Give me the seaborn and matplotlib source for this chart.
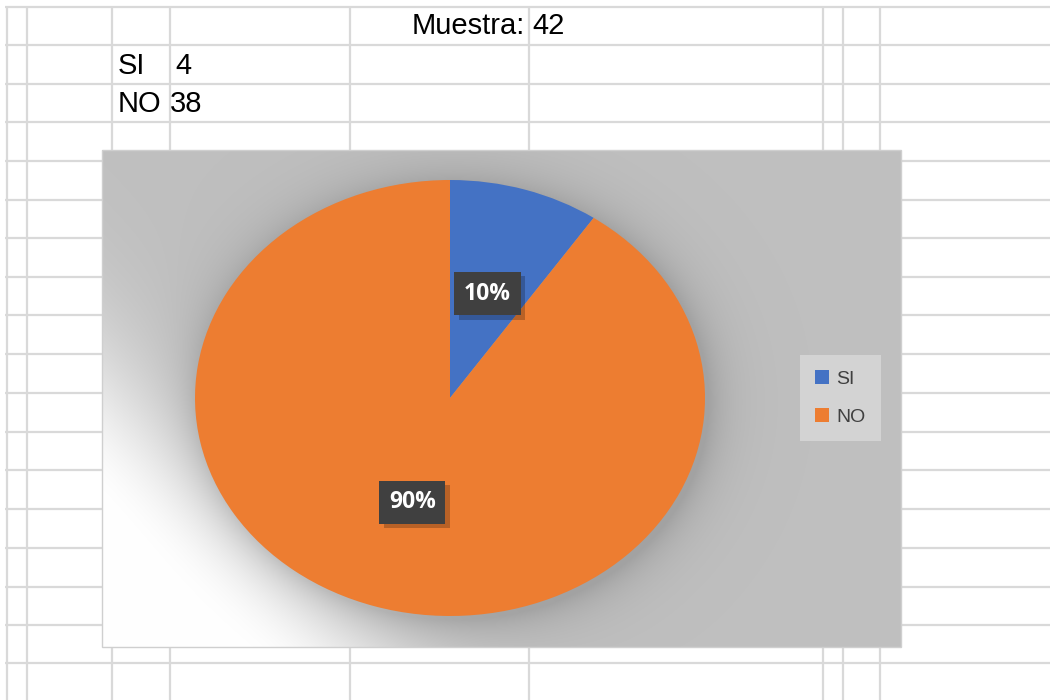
import numpy as np
import matplotlib
matplotlib.use('Agg')
import matplotlib.pyplot as plt
import matplotlib.patheffects as pe
from matplotlib.patches import Rectangle
import seaborn as sns

# data
categories = ['SI', 'NO']
counts = [4, 38]
colors = ['#4472C4', '#ED7D31']
sample_label = 'Muestra:'
sample_size = sum(counts)

# spreadsheet grid (pixel positions of the cell borders)
grid_x = [7, 27, 112, 170, 350, 529, 823, 843, 880]
grid_y = [7, 45, 84, 122, 161, 200, 238, 277, 315, 354, 393, 432, 470, 509, 548, 587, 625, 663]

sns.set_theme(style='white')
plt.rcParams['font.family'] = ['Liberation Sans', 'DejaVu Sans']

fig = plt.figure(figsize=(10.5, 7), dpi=100)
fig.patch.set_facecolor('white')

# background axes in pixel units
bg = fig.add_axes([0, 0, 1, 1])
bg.vlines(grid_x, 7, 700, color='#d9d9d9', lw=1.6, zorder=1)
bg.hlines(grid_y, 5, 1050, color='#d9d9d9', lw=1.6, zorder=1)

# chart area with gradient fill and soft shadow around the pie
xs = np.arange(102, 901) + 0.5
ys = np.arange(150, 647) + 0.5
X, Y = np.meshgrid(xs, ys)
s = ((X - 102) + (647 - Y)) / np.sqrt(2)
v = 0.75 + 0.25 * np.exp(-(np.clip(s - 100, 0, None) / 115) ** 2)
cx, cy = 454, 402
r = np.hypot((X - cx) / 255, (Y - cy) / 218)
d = (r - 1) * np.hypot(X - cx, Y - cy) / np.maximum(r, 1e-6)
shade = np.where(d > 0, 0.15 * np.exp(-np.clip(d, 0, None) / 22), 0.15)
v = v * (1 - shade)
img = np.dstack([v, v, v])
bg.imshow(img, extent=(102, 901, 647, 150), origin='upper', aspect='auto',
          interpolation='bilinear', zorder=2)
bg.add_patch(Rectangle((102, 150), 799, 497, fill=False, ec='#cfcfcf', lw=1, zorder=3))

# cell texts
bg.text(525, 26.5, sample_label, ha='right', va='center', fontsize=21, color='black', zorder=4)
bg.text(532, 26.5, str(sample_size), ha='left', va='center', fontsize=21, color='black', zorder=4)
for i, (cat, n) in enumerate(zip(categories, counts)):
    yy = 65.5 + i * 38
    bg.text(118, yy, cat, ha='left', va='center', fontsize=21, color='black', zorder=4)
    bg.text(175 if i == 0 else 170, yy, str(n), ha='left', va='center', fontsize=21,
            color='black', zorder=4)

bg.set_xlim(0, 1050)
bg.set_ylim(700, 0)
bg.axis('off')

# pie (elliptical, as in the sheet)
ax = fig.add_axes([195 / 1050, (700 - 616) / 700, 510 / 1050, 436 / 700])
ax.patch.set_alpha(0)
wedges, texts, autotexts = ax.pie(
    counts, colors=colors, startangle=90, counterclock=False,
    autopct='%1.0f%%', pctdistance=0.50,
    wedgeprops=dict(linewidth=0))
for t in autotexts:
    t.set_fontfamily('Open Sans')
    t.set_fontweight('bold')
    t.set_fontsize(16.5)
    t.set_color('white')
    t.set_bbox(dict(boxstyle='square,pad=0.42', fc='#404040', ec='none'))
    t.get_bbox_patch().set_path_effects([
        pe.SimplePatchShadow(offset=(3, -3), shadow_rgbFace='black', alpha=0.22),
        pe.Normal()])
ax.set_aspect('auto')
ax.set_xlim(-1, 1)
ax.set_ylim(-1, 1)

leg = ax.legend(wedges, categories, loc='upper left',
                bbox_to_anchor=(800 / 1050, 1 - 355 / 700),
                bbox_transform=fig.transFigure, frameon=True, fancybox=False,
                facecolor='#d3d3d3', edgecolor='none', framealpha=1,
                fontsize=14, labelcolor='#404040', handlelength=0.7,
                handleheight=0.7, handletextpad=0.4, labelspacing=1.05,
                borderpad=0.78, borderaxespad=0)

fig.savefig('out.png', dpi=100)
